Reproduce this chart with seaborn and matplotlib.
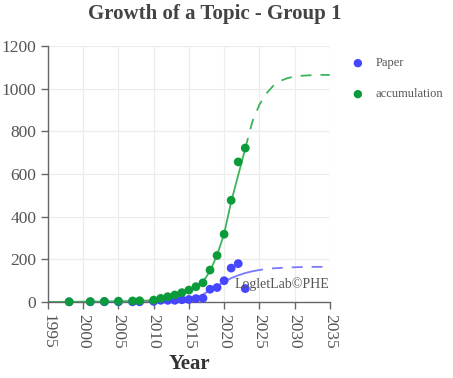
import numpy as np
import pandas as pd
import matplotlib
matplotlib.use("Agg")
import matplotlib.pyplot as plt
import seaborn as sns

# observed points
years = [1998, 2001, 2003, 2005, 2007, 2008, 2010, 2011, 2012, 2013, 2014,
         2015, 2016, 2017, 2018, 2019, 2020, 2021, 2022, 2023]
paper = [1, 1, 1, 1, 1, 1, 3, 8, 8, 8, 11, 12, 16, 18, 60, 68, 100, 159, 180, 63]
accumulation = [1, 2, 3, 4, 5, 6, 9, 17, 25, 33, 44, 56, 72, 90, 150, 218,
                318, 477, 657, 722]

# fitted curves (solid = fit, dashed = forecast)
fit_years = list(range(1995, 2036))
paper_fit = [0, 0, 0, 0, 0, 0, 0, 0, 1, 1, 1, 1, 1, 2, 2, 3, 4, 5, 6, 8,
             10, 20, 35, 55, 75, 95, 112, 125, 136, 144, 150, 155, 158, 160,
             162, 163, 164, 164, 165, 165, 165]
accum_fit = [0, 0, 1, 1, 1, 2, 2, 2, 3, 3, 4, 4, 5, 6, 7, 9, 15, 23, 33, 44,
             57, 72, 95, 145, 220, 320, 470, 595, 720, 845, 925, 978, 1015,
             1037, 1050, 1057, 1061, 1063, 1064, 1065, 1065]
paper_split = 2024
accum_split = 2023

blue = "#4646ff"
green = "#0c9b3a"

sns.set_style("white")
plt.rcParams['font.family'] = ['Liberation Serif', 'DejaVu Serif']

fig = plt.figure(figsize=(4.53, 3.78), dpi=100)
ax = fig.add_axes([0.106, 0.201, 0.622, 0.677])

fit = pd.DataFrame({"year": fit_years, "paper": paper_fit, "accum": accum_fit})
pts = pd.DataFrame({"year": years, "Paper": paper, "accumulation": accumulation})

p_solid = fit[fit.year <= paper_split]
p_dash = fit[fit.year >= paper_split]
a_solid = fit[fit.year <= accum_split]
a_dash = fit[fit.year >= accum_split]

sns.lineplot(data=p_solid, x="year", y="paper", color="#7a7aff", lw=1.3, ax=ax)
sns.lineplot(data=p_dash, x="year", y="paper", color="#7a7aff", lw=1.3,
             ax=ax).lines[-1].set_dashes([6, 5])
sns.lineplot(data=a_solid, x="year", y="accum", color="#3cb55a", lw=1.3, ax=ax)
sns.lineplot(data=a_dash, x="year", y="accum", color="#3cb55a", lw=1.3,
             ax=ax).lines[-1].set_dashes([6, 5])

sns.scatterplot(data=pts, x="year", y="Paper", color=blue, s=40,
                edgecolor="none", ax=ax, clip_on=False, zorder=3)
sns.scatterplot(data=pts, x="year", y="accumulation", color=green, s=40,
                edgecolor="none", ax=ax, clip_on=False, zorder=4)

ax.set_xlim(1995, 2035)
ax.set_ylim(0, 1200)
ax.set_xticks(range(1995, 2036, 5))
ax.set_yticks(range(0, 1201, 200))
ax.grid(True, color="#ececec", lw=0.8)
sns.despine(ax=ax)
for s in ["left", "bottom"]:
    ax.spines[s].set_color("#666666")
    ax.spines[s].set_linewidth(1.0)
ax.tick_params(axis="both", length=5, width=1, color="#666666",
               labelcolor="#555555", labelsize=12.5, left=True, bottom=True)
plt.setp(ax.get_xticklabels(), rotation=270, va="top", ha="center")
ax.set_ylabel("")
ax.set_xlabel("Year", fontsize=15, fontweight="bold", color="#333333", labelpad=4)

fig.suptitle("Growth of a Topic - Group 1", x=0.475, y=0.99,
             fontsize=15, fontweight="bold", color="#444444")

ax.text(0.663, 0.055, "LogletLab©PHE", transform=ax.transAxes, fontsize=10,
        color="#555555")

# legend
fig.text(0.788, 0.833, "●", color=blue, fontsize=8, ha="center", va="center",
         family="DejaVu Sans")
fig.text(0.83, 0.833, "Paper", color="#555555", fontsize=9, va="center")
fig.text(0.788, 0.751, "●", color=green, fontsize=8, ha="center", va="center",
         family="DejaVu Sans")
fig.text(0.83, 0.751, "accumulation", color="#555555", fontsize=9, va="center")

fig.savefig("out.png", dpi=100)
